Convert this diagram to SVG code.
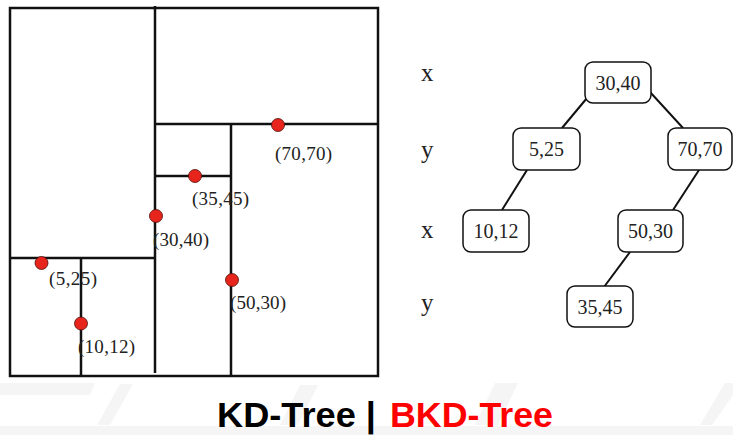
<svg xmlns="http://www.w3.org/2000/svg" width="733" height="435" viewBox="0 0 733 435">
<style>
.ln{stroke:#111;stroke-width:2.5;fill:none}
.pt{fill:#e8251c;stroke:#4a0c08;stroke-width:0.8}
.lbl{font-family:"Liberation Serif",serif;font-size:19px;fill:#222}
.node rect{fill:#fff;stroke:#111;stroke-width:1.5}
.node text{font-family:"Liberation Serif",serif;font-size:20px;fill:#222;text-anchor:middle}
.lvl{font-family:"Liberation Serif",serif;font-size:25px;fill:#222}
.edge{stroke:#111;stroke-width:2}
.bg{fill:#f5f5f5}
.ttl{font-family:"Liberation Sans",sans-serif;font-weight:bold;font-size:35px}
</style>
<rect width="733" height="435" fill="#fff"/>
<g id="background">
<polygon class="bg" points="0,383 95,383 90,395 0,395"/>
<polygon class="bg" points="0,426 733,426 733,435 0,435"/>
<polygon class="bg" points="120,384 133,384 110,425 97,425"/>
<polygon class="bg" points="300,385 318,385 298,425 280,425"/>
<polygon class="bg" points="495,383 518,383 498,425 475,425"/>
<polygon class="bg" points="725,383 733,383 733,395 712,425 700,425"/>
</g>
<g id="kd-space">
<rect class="ln" x="10" y="8" width="368" height="368" stroke-width="2"/>
<line class="ln" x1="155" y1="6" x2="155" y2="373"/>
<line class="ln" x1="155" y1="124" x2="378" y2="124"/>
<line class="ln" x1="231" y1="124" x2="231" y2="376"/>
<line class="ln" x1="155" y1="176" x2="231" y2="176"/>
<line class="ln" x1="10" y1="258" x2="155" y2="258"/>
<line class="ln" x1="81" y1="258" x2="81" y2="376"/>
<circle class="pt" cx="278" cy="125" r="6.5"/>
<circle class="pt" cx="195" cy="176" r="6.5"/>
<circle class="pt" cx="156" cy="216" r="6.5"/>
<circle class="pt" cx="41.5" cy="263" r="6.5"/>
<circle class="pt" cx="232" cy="280" r="6.5"/>
<circle class="pt" cx="81" cy="323.5" r="6.5"/>
<text class="lbl" x="275" y="160" textLength="57">(70,70)</text>
<text class="lbl" x="192" y="205" textLength="57">(35,45)</text>
<text class="lbl" x="153" y="246" textLength="56">(30,40)</text>
<text class="lbl" x="49" y="285" textLength="48">(5,25)</text>
<text class="lbl" x="230" y="309" textLength="56">(50,30)</text>
<text class="lbl" x="78" y="353" textLength="57">(10,12)</text>
</g>
<g id="levels">
<text class="lvl" x="421" y="81">x</text>
<text class="lvl" x="421" y="158">y</text>
<text class="lvl" x="421" y="238">x</text>
<text class="lvl" x="421" y="311">y</text>
</g>
<g id="connectors">
<line class="edge" x1="587" y1="98" x2="562" y2="128"/>
<line class="edge" x1="650" y1="92" x2="683" y2="128"/>
<line class="edge" x1="527" y1="170" x2="502" y2="210"/>
<line class="edge" x1="699" y1="170" x2="673" y2="210"/>
<line class="edge" x1="630" y1="252" x2="604" y2="287"/>
</g>
<g id="n3040" class="node"><rect x="585" y="62" width="66" height="41" rx="8"/><text x="618" y="90">30,40</text></g>
<g id="n525" class="node"><rect x="513" y="128" width="67" height="42" rx="8"/><text x="546.5" y="156">5,25</text></g>
<g id="n7070" class="node"><rect x="668" y="128" width="64" height="42" rx="8"/><text x="700" y="156">70,70</text></g>
<g id="n1012" class="node"><rect x="463" y="210" width="66" height="42" rx="8"/><text x="496" y="238">10,12</text></g>
<g id="n5030" class="node"><rect x="618" y="210" width="65" height="42" rx="8"/><text x="650.5" y="238">50,30</text></g>
<g id="n3545" class="node"><rect x="567" y="286" width="66" height="41" rx="8"/><text x="600" y="314">35,45</text></g>
<g id="title">
<text class="ttl" x="217" y="427" fill="#000" textLength="159" lengthAdjust="spacingAndGlyphs">KD-Tree |</text>
<text class="ttl" x="390" y="427" fill="#ff0000" textLength="163" lengthAdjust="spacingAndGlyphs">BKD-Tree</text>
</g>
</svg>
